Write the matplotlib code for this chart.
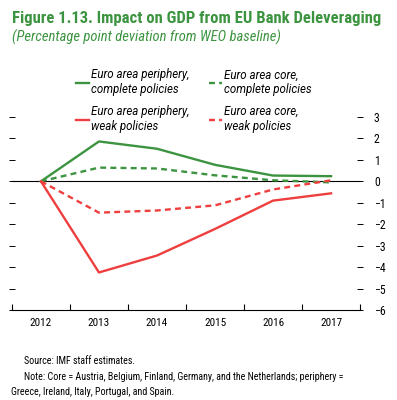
import matplotlib.pyplot as plt
import numpy as np

# data
years = ['2012', '2013', '2014', '2015', '2016', '2017']
periphery_complete = [0, 1.86, 1.52, 0.77, 0.27, 0.24]
core_complete = [0, 0.64, 0.6, 0.28, 0.05, -0.05]
periphery_weak = [0, -4.25, -3.46, -2.22, -0.9, -0.56]
core_weak = [0, -1.46, -1.36, -1.12, -0.38, 0.05]

green = '#3c9440'
red = '#ef3e3e'
narrow = ['Roboto Condensed', 'DejaVu Sans Condensed', 'Liberation Sans Narrow', 'Liberation Sans']

fig = plt.figure(figsize=(3.97, 4.0), dpi=100)
ax = fig.add_axes([0.030, 0.225, 0.877, 0.4825])

x = np.arange(len(years))
l1, = ax.plot(x, periphery_complete, color=green, lw=1.7)
l2, = ax.plot(x, core_complete, color=green, lw=1.7, ls=(0, (2.5, 1.8)))
l3, = ax.plot(x, periphery_weak, color=red, lw=1.7)
l4, = ax.plot(x, core_weak, color=red, lw=1.7, ls=(0, (2.5, 1.8)))
ax.axhline(0, color='black', lw=0.8, zorder=1)

ax.set_xlim(-0.5, 5.5)
ax.set_ylim(-6, 3)
for s in ['top', 'left', 'right']:
    ax.spines[s].set_visible(False)
ax.spines['bottom'].set_linewidth(0.8)

ax.set_xticks(np.arange(-0.5, 6, 1))
ax.set_xticklabels([])
ax.tick_params(axis='x', which='major', direction='in', length=4, width=0.8)
ax.set_xticks(x, minor=True)
ax.set_xticklabels(years, minor=True, fontsize=8, family=narrow)
ax.tick_params(axis='x', which='minor', length=0, pad=6)

ax.set_yticks(range(-6, 4))
ax.set_yticklabels([str(v).replace('-', '\u2212') for v in range(-6, 4)], fontsize=8.5, family=narrow)
ax.tick_params(axis='y', left=True, right=True, labelleft=False, labelright=True,
               direction='inout', length=4, width=0.7, pad=8)

fig.text(0.03, 0.955, 'Figure 1.13. Impact on GDP from EU Bank Deleveraging',
         color=green, fontsize=12, fontweight='bold', family=narrow, va='center')
fig.text(0.03, 0.9075, '(Percentage point deviation from WEO baseline)',
         color=green, fontsize=10.5, style='italic', family=narrow, va='center')

leg = fig.legend([l1, l3, l2, l4],
                 ['Euro area periphery,\ncomplete policies', 'Euro area periphery,\nweak policies',
                  'Euro area core,\ncomplete policies', 'Euro area core,\nweak policies'],
                 loc='upper left', bbox_to_anchor=(0.165, 0.855), ncol=2, frameon=False,
                 prop={'family': ['Roboto', 'DejaVu Sans'], 'style': 'italic', 'size': 8.3},
                 handlelength=1.1, handletextpad=0.2, columnspacing=1.7, labelspacing=0.75)

fig.text(0.06, 0.0975, 'Source: IMF staff estimates.', fontsize=7.2, family=narrow, va='center')
fig.text(0.06, 0.0575, 'Note: Core = Austria, Belgium, Finland, Germany, and the Netherlands; periphery =',
         fontsize=7.2, family=narrow, va='center')
fig.text(0.027, 0.02, 'Greece, Ireland, Italy, Portugal, and Spain.', fontsize=7.2, family=narrow,
         va='center')

fig.savefig('out.png', dpi=100)
